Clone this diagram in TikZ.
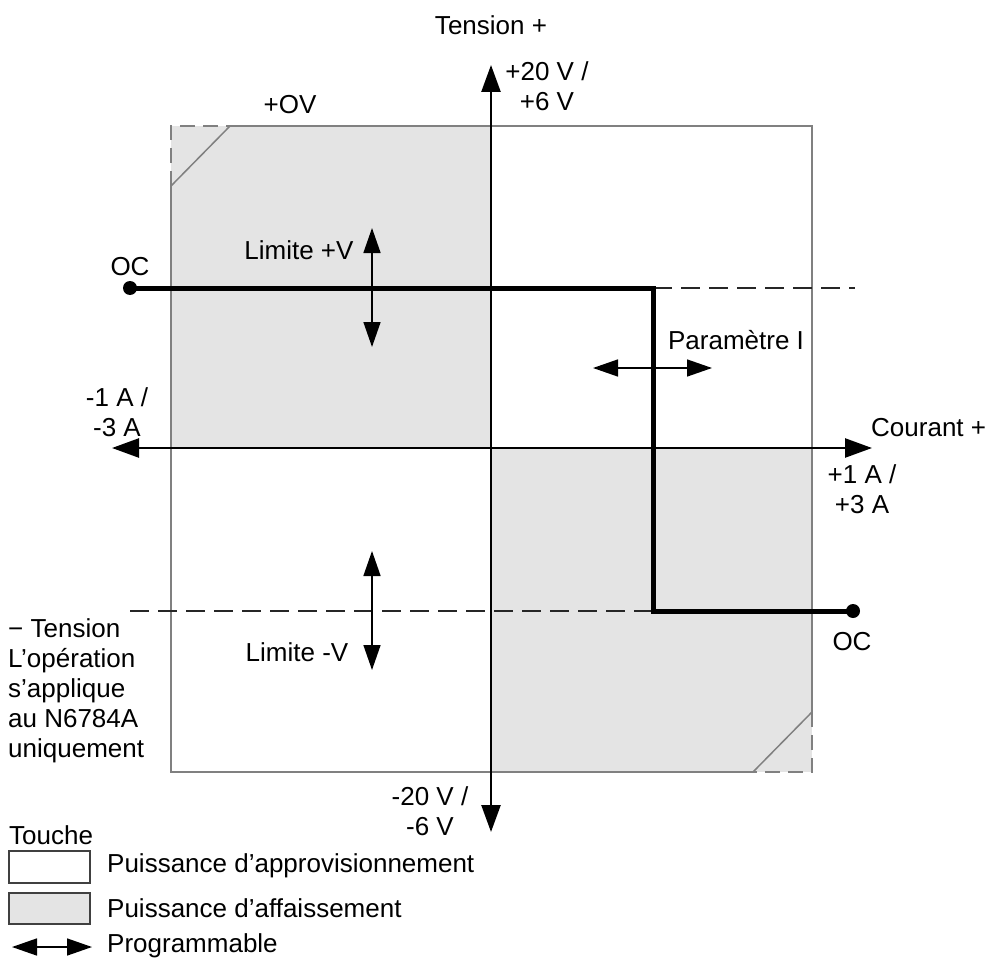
\documentclass[tikz,border=0pt]{standalone}
\usepackage{fontspec}
\setmainfont{Liberation Sans}
\usetikzlibrary{positioning,arrows.meta}
\definecolor{sinkgray}{HTML}{E4E4E4}
\definecolor{edgegray}{HTML}{808080}

\begin{document}
\begin{tikzpicture}[
x=1pt, y=-1pt,
every node/.style={
    inner sep=0pt,
    font=\fontsize{26}{30}\selectfont
},
valtext/.style={align=center},
boxedge/.style={draw=edgegray, line width=1.5pt},
boxcorner/.style={boxedge, dash pattern=on 15pt off 8pt},
limitline/.style={draw=black!85, line width=2pt, dash pattern=on 19pt off 9pt},
axisline/.style={line width=2.5pt,
    {Triangle[length=27pt,width=19pt]}-{Triangle[length=27pt,width=19pt]}},
prog/.style={line width=1.5pt,
    {Triangle[length=25pt,width=17pt]}-{Triangle[length=25pt,width=17pt]}},
curve/.style={line width=5pt, line join=miter},
dot/.style={circle, fill=black, minimum size=14pt}
]
\useasboundingbox (0,0) rectangle (987,960);

% sink quadrants
\fill[sinkgray] (171,126) rectangle (491,448);
\fill[sinkgray] (491,448) rectangle (812,772);

% frame with cut corners
\draw[boxedge] (230,126) -- (812,126) -- (812,712);
\draw[boxedge] (753,772) -- (171,772) -- (171,186);
\draw[boxedge] (171,186) -- (230,126);
\draw[boxedge] (812,712) -- (753,772);
\draw[boxcorner] (171,186) -- (171,126) -- (230,126);
\draw[boxcorner] (812,712) -- (812,772) -- (753,772);

% corners of the limit curve
\coordinate (kneetop) at (653,288);
\coordinate (kneebot) at (653,611);
\coordinate (limtopend) at (855,288);
\coordinate (limbotstart) at (130,611);

\draw[limitline] (kneetop) -- (limtopend);
\draw[limitline] (limbotstart) -- (kneebot);

% axes
\coordinate (vtop) at (491,65);
\coordinate (vbot) at (491,832);
\coordinate (hleft) at (112,448);
\coordinate (hright) at (872,448);
\draw[axisline] (vbot) -- (vtop);
\draw[axisline] (hleft) -- (hright);

% output curve
\node (ocleft) [dot] at (130,288) {};
\node (ocright) [dot] at (853,611) {};
\draw[curve] (ocleft.center) -- (kneetop) -- (kneebot) -- (ocright.center);

% programmable settings
\coordinate (vplustop) at (372,228);
\coordinate (vplusbot) at (372,347);
\coordinate (vminustop) at (372,551);
\coordinate (vminusbot) at (372,670);
\coordinate (ileft) at (593,368);
\coordinate (iright) at (712,368);
\draw[prog] (vplusbot) -- (vplustop);
\draw[prog] (vminusbot) -- (vminustop);
\draw[prog] (ileft) -- (iright);

% labels
\node (tension) at (491,25) {Tension +};
\node (vmax) [valtext] at (547,86) {+20 V /\\+6 V};
\node (ov) at (290,105) {+OV};
\node (ocltxt) at (130,267) {OC};
\node (vplustxt) at (299,250) {Limite +V};
\node (paramtxt) at (736,340) {Paramètre I};
\node (imin) [valtext] at (117,412) {-1 A /\\-3 A};
\node (courant) [anchor=west] at (871,428) {Courant +};
\node (imax) [valtext] at (862,489) {+1 A /\\+3 A};
\node (ocrtxt) at (852,642) {OC};
\node (vminustxt) at (297,652) {Limite -V};
\node (negnote) [align=left, anchor=west] at (8,691)
{− Tension\\L’opération\\s’applique\\au N6784A\\uniquement};
\node (vmin) [valtext] at (430,811) {-20 V /\\-6 V};

% legend
\node (touche) [anchor=west] at (9,835) {Touche};
\draw[line width=1.5pt, draw=black!75, fill=white] (9,851) rectangle (90,883);
\draw[line width=1.5pt, draw=black!75, fill=sinkgray] (9,893) rectangle (90,924);
\coordinate (legleft) at (12,947);
\coordinate (legright) at (92,947);
\draw[prog] (legleft) -- (legright);
\node (sourcetxt) [anchor=west] at (107,866) {Puissance d’approvisionnement};
\node (sinktxt) [anchor=west] at (107,908) {Puissance d’affaissement};
\node (progtxt) [anchor=west] at (107,946) {Programmable};

\end{tikzpicture}
\end{document}
